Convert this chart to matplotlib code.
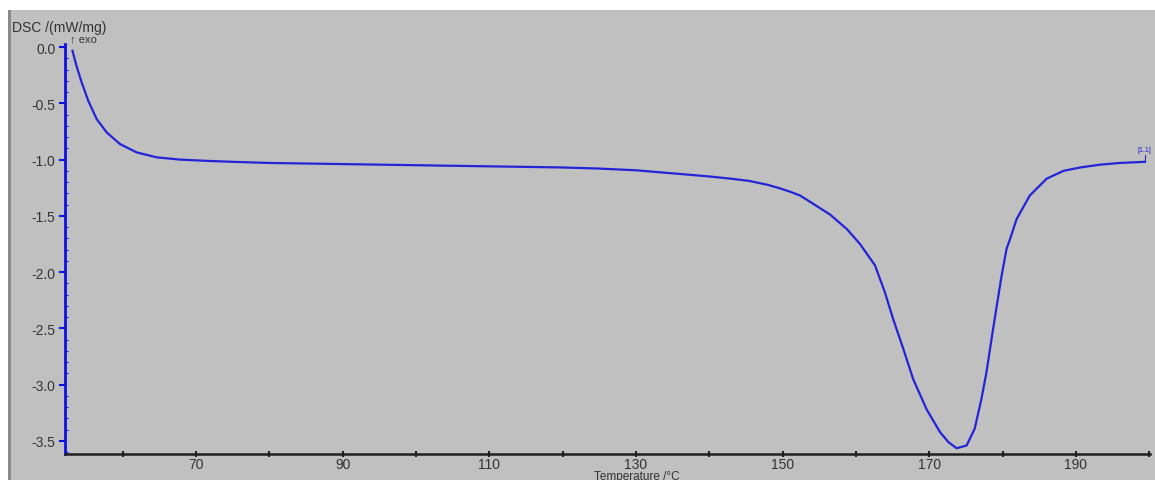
import matplotlib.pyplot as plt
from matplotlib.patches import Rectangle
from matplotlib.ticker import MultipleLocator, FixedLocator

plt.rcParams['font.family'] = ['Liberation Sans', 'DejaVu Sans']

# DSC curve
temp = [53.16, 53.7, 54.41, 55.31, 56.46, 57.82, 59.64, 61.91, 64.64, 67.8,
        71.0, 75.0, 80.0, 90.0, 100.0, 110.0, 120.0, 125.0, 130.0, 136.4,
        140.0, 143.0, 145.5, 148.0, 149.6, 151.0, 152.4, 154.1, 156.5, 158.8,
        160.55, 162.6, 163.95, 165.09, 166.45, 167.8, 169.64, 171.45, 172.6,
        173.73, 175.1, 176.2, 177.1, 177.8, 178.5, 179.2, 179.87, 180.55,
        181.0, 181.9, 183.7, 186.0, 188.3, 190.6, 193.3, 196.0, 199.4]
dsc = [-0.033, -0.166, -0.314, -0.477, -0.64, -0.758, -0.862, -0.936, -0.98,
       -1.0, -1.01, -1.02, -1.03, -1.04, -1.05, -1.06, -1.07, -1.08, -1.095,
       -1.13, -1.15, -1.17, -1.19, -1.225, -1.255, -1.285, -1.32, -1.39, -1.49,
       -1.62, -1.75, -1.94, -2.18, -2.42, -2.68, -2.95, -3.22, -3.42, -3.51,
       -3.565, -3.54, -3.39, -3.13, -2.89, -2.59, -2.30, -2.03, -1.79, -1.71,
       -1.53, -1.32, -1.17, -1.10, -1.07, -1.045, -1.03, -1.02]

x_labels = [70, 90, 110, 130, 150, 170, 190]
y_labels = [0.0, -0.5, -1.0, -1.5, -2.0, -2.5, -3.0, -3.5]
curve_label = '[1.1]'

W, H = 1155, 481
fig = plt.figure(figsize=(W / 100, H / 100), dpi=100, facecolor='white')

# grey panel behind everything
fig.patches.append(Rectangle((11 / W, 0), 1 - 11 / W, 1 - 11 / H, transform=fig.transFigure,
                             facecolor='#c0c0c0', edgecolor='none', zorder=-2))
fig.patches.append(Rectangle((8 / W, 0), 3 / W, 1 - 11 / H, transform=fig.transFigure,
                             facecolor='#8a8a8a', edgecolor='none', zorder=-2))

ax = fig.add_axes([65 / W, 26 / H, (1150 - 65) / W, (455 - 45) / H])
ax.set_zorder(1)
ax.set_facecolor('#c0c0c0')
ax.plot(temp, dsc, color='#2323d8', lw=1.6, solid_joinstyle='round')

ax.set_xlim(52.14, 200.1)
ax.set_ylim(-3.616, 0.027)

for s in ['top', 'right']:
    ax.spines[s].set_visible(False)
ax.spines['left'].set_color('#1010e0')
ax.spines['left'].set_linewidth(2)
ax.spines['bottom'].set_color('#202020')
ax.spines['bottom'].set_linewidth(1.8)

# x ticks every 10, labels every 20
ax.xaxis.set_major_locator(FixedLocator(x_labels))
ax.xaxis.set_minor_locator(MultipleLocator(10))
ax.set_xticklabels([str(v) for v in x_labels])
ax.tick_params(axis='x', which='both', direction='inout', length=4, width=1.5,
               color='#202020', labelsize=10, labelcolor='#333333', pad=0)

ax.yaxis.set_major_locator(FixedLocator(y_labels))
ax.yaxis.set_minor_locator(MultipleLocator(0.1))
ax.set_yticklabels(['%.1f' % v for v in y_labels])
ax.tick_params(axis='y', which='major', direction='out', length=4, width=1.5,
               color='#1010e0', labelsize=10, labelcolor='#333333', pad=3)
ax.tick_params(axis='y', which='minor', direction='in', length=2, width=0.8, color='#1010e0')

fig.text(12 / W, 1 - 28 / H, 'DSC /(mW/mg)', fontsize=10, color='#333333', va='center')
fig.text(70 / W, 1 - 39 / H, '↑ exo', fontsize=8, color='#333333', va='center')
fig.text(637 / W, 1 - 477 / H, 'Temperature /°C', fontsize=8.5, color='#333333',
         ha='center', va='center')

# curve label at the end of the trace
ax.plot([temp[-1], temp[-1]], [dsc[-1], dsc[-1] + 0.06], color='#2323d8', lw=0.8)
ax.text(temp[-1], dsc[-1] + 0.08, curve_label, fontsize=5, color='#2323d8',
        ha='center', va='bottom')

fig.savefig('out.png', dpi=100, facecolor='white')
